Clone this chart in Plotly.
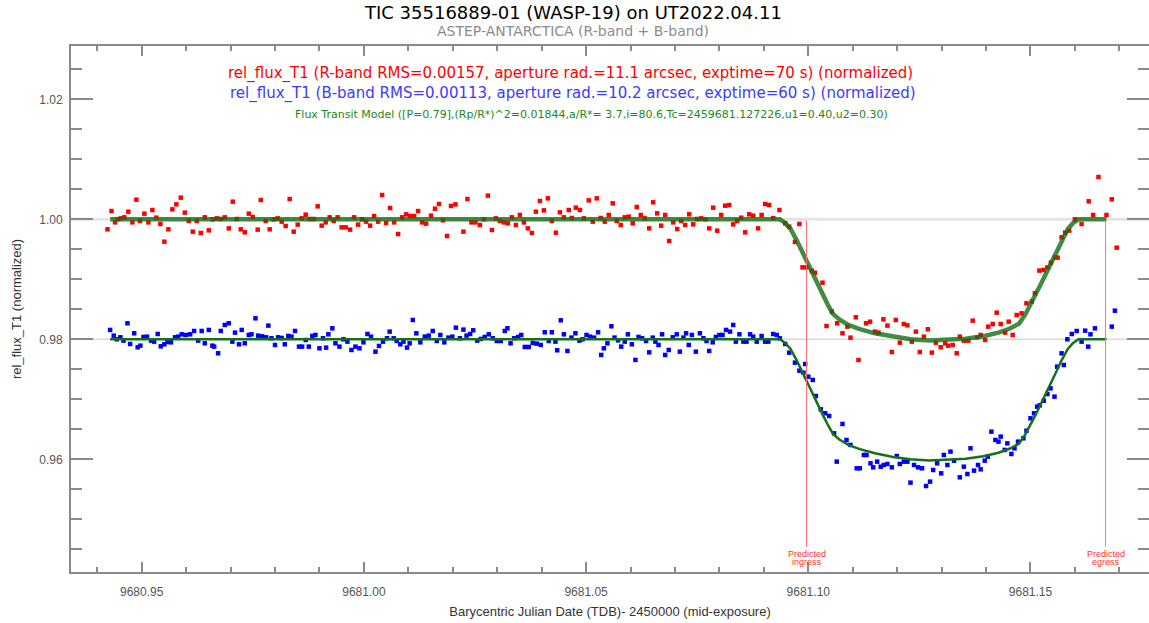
import plotly.graph_objects as go

# ---------------- data ----------------
r_time = [9680.9423, 9680.9432, 9680.9440, 9680.9446, 9680.9453, 9680.9461, 9680.9470, 9680.9479, 9680.9488, 9680.9496,
          9680.9506, 9680.9515, 9680.9524, 9680.9533, 9680.9542, 9680.9551, 9680.9560, 9680.9569, 9680.9578, 9680.9588,
          9680.9597, 9680.9606, 9680.9615, 9680.9624, 9680.9633, 9680.9642, 9680.9651, 9680.9660, 9680.9669, 9680.9678,
          9680.9687, 9680.9696, 9680.9705, 9680.9714, 9680.9723, 9680.9732, 9680.9741, 9680.9750, 9680.9761, 9680.9768,
          9680.9779, 9680.9788, 9680.9797, 9680.9806, 9680.9815, 9680.9824, 9680.9833, 9680.9842, 9680.9851, 9680.9860,
          9680.9869, 9680.9878, 9680.9887, 9680.9896, 9680.9905, 9680.9914, 9680.9923, 9680.9932, 9680.9941, 9680.9950,
          9680.9959, 9680.9969, 9680.9978, 9680.9987, 9680.9996, 9681.0005, 9681.0014, 9681.0023, 9681.0032, 9681.0041,
          9681.0050, 9681.0059, 9681.0068, 9681.0077, 9681.0086, 9681.0095, 9681.0104, 9681.0113, 9681.0122, 9681.0131,
          9681.0140, 9681.0151, 9681.0160, 9681.0169, 9681.0178, 9681.0187, 9681.0196, 9681.0206, 9681.0224, 9681.0233,
          9681.0242, 9681.0251, 9681.0261, 9681.0270, 9681.0279, 9681.0288, 9681.0297, 9681.0306, 9681.0315, 9681.0324,
          9681.0333, 9681.0342, 9681.0351, 9681.0360, 9681.0369, 9681.0378, 9681.0387, 9681.0396, 9681.0405, 9681.0414,
          9681.0423, 9681.0432, 9681.0441, 9681.0450, 9681.0461, 9681.0468, 9681.0477, 9681.0486, 9681.0495, 9681.0506,
          9681.0515, 9681.0524, 9681.0533, 9681.0542, 9681.0551, 9681.0560, 9681.0569, 9681.0578, 9681.0587, 9681.0596,
          9681.0605, 9681.0614, 9681.0623, 9681.0632, 9681.0642, 9681.0651, 9681.0660, 9681.0669, 9681.0678, 9681.0687,
          9681.0696, 9681.0705, 9681.0714, 9681.0723, 9681.0732, 9681.0741, 9681.0750, 9681.0759, 9681.0768, 9681.0777,
          9681.0786, 9681.0795, 9681.0804, 9681.0813, 9681.0822, 9681.0831, 9681.0840, 9681.0849, 9681.0858, 9681.0867,
          9681.0876, 9681.0887, 9681.0895, 9681.0903, 9681.0912, 9681.0921, 9681.0935, 9681.0948, 9681.0957, 9681.0970,
          9681.0980, 9681.0987, 9681.0996, 9681.1008, 9681.1015, 9681.1032, 9681.1041, 9681.1053, 9681.1065, 9681.1077,
          9681.1088, 9681.1095, 9681.1107, 9681.1113, 9681.1130, 9681.1139, 9681.1150, 9681.1158, 9681.1169, 9681.1178,
          9681.1188, 9681.1197, 9681.1206, 9681.1215, 9681.1223, 9681.1233, 9681.1242, 9681.1251, 9681.1260, 9681.1269,
          9681.1278, 9681.1287, 9681.1298, 9681.1308, 9681.1315, 9681.1325, 9681.1334, 9681.1341, 9681.1350, 9681.1360,
          9681.1370, 9681.1380, 9681.1388, 9681.1398, 9681.1405, 9681.1415, 9681.1424, 9681.1433, 9681.1443, 9681.1451,
          9681.1460, 9681.1469, 9681.1480, 9681.1491, 9681.1503, 9681.1510, 9681.1520, 9681.1529, 9681.1538, 9681.1546,
          9681.1555, 9681.1561, 9681.1570, 9681.1578, 9681.1587, 9681.1600, 9681.1615, 9681.1631, 9681.1641, 9681.1653,
          9681.1671, 9681.1683, 9681.1694]
r_flux = [0.99833, 1.00138, 0.99949, 1.00000, 1.00016, 1.00033, 1.00127, 0.99949, 1.00327, 0.99972,
          1.00094, 0.99949, 1.00155, 1.00027, 0.99922, 0.99627, 0.99833, 1.00166, 1.00249, 1.00361,
          1.00111, 0.99972, 0.99794, 0.99972, 0.99772, 1.00033, 0.99816, 1.00000, 1.00016, 1.00005,
          1.00033, 0.99849, 1.00294, 1.00005, 0.99833, 0.99783, 1.00094, 1.00038, 0.99828, 1.00322,
          0.99972, 0.99833, 1.00000, 1.00016, 0.99961, 0.99888, 1.00338, 0.99794, 0.99911, 1.00016,
          1.00077, 1.00005, 1.00005, 1.00216, 0.99894, 0.99949, 1.00033, 0.99972, 1.00033, 0.99866,
          0.99866, 0.99828, 1.00033, 0.99911, 1.00000, 0.99961, 0.99894, 1.00055, 0.99961, 1.00405,
          0.99938, 1.00188, 0.99949, 0.99755, 1.00033, 1.00083, 1.00055, 1.00055, 1.00138, 0.99949,
          0.99927, 1.00061, 1.00177, 1.00255, 0.99983, 0.99722, 1.00222, 1.00249, 0.99794, 1.00338,
          0.99949, 0.99949, 0.99905, 1.00000, 1.00394, 0.99822, 1.00016, 0.99972, 0.99949, 0.99933,
          1.00033, 0.99905, 1.00072, 0.99949, 0.99849, 0.99772, 1.00127, 1.00305, 1.00149, 1.00349,
          0.99972, 0.99777, 1.00116, 1.00033, 1.00155, 1.00022, 1.00194, 1.00155, 1.00016, 1.00316,
          0.99961, 1.00349, 1.00022, 0.99961, 1.00072, 1.00266, 0.99972, 0.99905, 1.00033, 1.00044,
          0.99933, 1.00205, 1.00072, 1.00016, 0.99849, 1.00283, 1.00099, 0.99894, 1.00072, 0.99638,
          0.99949, 0.99838, 0.99972, 0.99905, 1.00083, 0.99916, 1.00005, 1.00016, 1.00000, 0.99849,
          1.00194, 0.99811, 1.00072, 1.00227, 1.00238, 0.99916, 0.99972, 1.00027, 0.99783, 1.00083,
          1.00061, 0.99849, 1.00072, 1.00255, 1.00238, 1.00020, 1.00155, 0.99933, 0.99877, 0.99622,
          0.99922, 0.99199, 0.99199, 0.99144, 0.99110, 0.98944, 0.98222, 0.98461, 0.98267, 0.98100,
          0.98211, 0.98027, 0.98367, 0.97655, 0.98267, 0.98294, 0.98128, 0.98111, 0.98333, 0.98228,
          0.97788, 0.98322, 0.97944, 0.98255, 0.98233, 0.97961, 0.98128, 0.97788, 0.98044, 0.98167,
          0.97778, 0.97944, 0.97867, 0.97933, 0.97894, 0.97905, 0.97767, 0.98044, 0.97977, 0.97977,
          0.98311, 0.98033, 0.98072, 0.97988, 0.98211, 0.98255, 0.98444, 0.98255, 0.98111, 0.98294,
          0.98072, 0.98405, 0.98433, 0.98600, 0.98628, 0.98767, 0.99145, 0.99156, 0.99199, 0.99277,
          0.99366, 0.99361, 0.99700, 0.99777, 0.99811, 1.00000, 0.99922, 1.00300, 1.00072, 1.00705,
          1.00072, 1.00333, 0.99527]

b_time = [9680.9429, 9680.9437, 9680.9444, 9680.9452, 9680.9459, 9680.9468, 9680.9474, 9680.9483, 9680.9491, 9680.9497,
          9680.9504, 9680.9512, 9680.9521, 9680.9528, 9680.9536, 9680.9543, 9680.9551, 9680.9558, 9680.9566, 9680.9575,
          9680.9582, 9680.9590, 9680.9599, 9680.9609, 9680.9618, 9680.9627, 9680.9635, 9680.9642, 9680.9651, 9680.9659,
          9680.9663, 9680.9672, 9680.9678, 9680.9687, 9680.9696, 9680.9704, 9680.9710, 9680.9719, 9680.9725, 9680.9732,
          9680.9741, 9680.9747, 9680.9756, 9680.9762, 9680.9771, 9680.9780, 9680.9785, 9680.9792, 9680.9800, 9680.9807,
          9680.9815, 9680.9822, 9680.9830, 9680.9837, 9680.9845, 9680.9854, 9680.9861, 9680.9869, 9680.9876, 9680.9884,
          9680.9891, 9680.9900, 9680.9908, 9680.9915, 9680.9920, 9680.9929, 9680.9936, 9680.9945, 9680.9954, 9680.9963,
          9680.9972, 9680.9981, 9680.9990, 9680.9999, 9681.0008, 9681.0016, 9681.0026, 9681.0034, 9681.0043, 9681.0052,
          9681.0058, 9681.0067, 9681.0074, 9681.0082, 9681.0089, 9681.0097, 9681.0103, 9681.0110, 9681.0118, 9681.0127,
          9681.0137, 9681.0146, 9681.0155, 9681.0164, 9681.0172, 9681.0181, 9681.0190, 9681.0199, 9681.0207, 9681.0216,
          9681.0224, 9681.0231, 9681.0239, 9681.0246, 9681.0255, 9681.0263, 9681.0272, 9681.0281, 9681.0290, 9681.0299,
          9681.0308, 9681.0317, 9681.0323, 9681.0330, 9681.0338, 9681.0347, 9681.0354, 9681.0362, 9681.0371, 9681.0380,
          9681.0389, 9681.0398, 9681.0407, 9681.0416, 9681.0423, 9681.0431, 9681.0435, 9681.0443, 9681.0450, 9681.0458,
          9681.0467, 9681.0476, 9681.0485, 9681.0492, 9681.0501, 9681.0509, 9681.0518, 9681.0527, 9681.0534, 9681.0540,
          9681.0548, 9681.0557, 9681.0564, 9681.0572, 9681.0579, 9681.0587, 9681.0594, 9681.0603, 9681.0611, 9681.0618,
          9681.0626, 9681.0635, 9681.0642, 9681.0650, 9681.0656, 9681.0663, 9681.0671, 9681.0678, 9681.0686, 9681.0695,
          9681.0704, 9681.0711, 9681.0719, 9681.0725, 9681.0731, 9681.0738, 9681.0747, 9681.0756, 9681.0764, 9681.0771,
          9681.0777, 9681.0785, 9681.0792, 9681.0800, 9681.0807, 9681.0815, 9681.0824, 9681.0831, 9681.0837, 9681.0845,
          9681.0854, 9681.0861, 9681.0869, 9681.0876, 9681.0884, 9681.0895, 9681.0903, 9681.0910, 9681.0921, 9681.0929,
          9681.0936, 9681.0948, 9681.0957, 9681.0970, 9681.0980, 9681.0989, 9681.0993, 9681.1000, 9681.1010, 9681.1017,
          9681.1028, 9681.1038, 9681.1047, 9681.1058, 9681.1064, 9681.1077, 9681.1086, 9681.1095, 9681.1109, 9681.1116,
          9681.1125, 9681.1131, 9681.1140, 9681.1146, 9681.1155, 9681.1163, 9681.1170, 9681.1178, 9681.1188, 9681.1199,
          9681.1206, 9681.1215, 9681.1223, 9681.1230, 9681.1238, 9681.1247, 9681.1256, 9681.1265, 9681.1274, 9681.1281,
          9681.1290, 9681.1299, 9681.1305, 9681.1313, 9681.1320, 9681.1328, 9681.1341, 9681.1350, 9681.1358, 9681.1365,
          9681.1373, 9681.1382, 9681.1388, 9681.1397, 9681.1404, 9681.1412, 9681.1421, 9681.1428, 9681.1433, 9681.1442,
          9681.1448, 9681.1457, 9681.1464, 9681.1472, 9681.1484, 9681.1491, 9681.1500, 9681.1508, 9681.1515, 9681.1521,
          9681.1530, 9681.1538, 9681.1545, 9681.1554, 9681.1560, 9681.1570, 9681.1575, 9681.1583, 9681.1593, 9681.1604,
          9681.1615, 9681.1623, 9681.1630, 9681.1635, 9681.1645, 9681.1683, 9681.1690]
b_flux = [0.98156, 0.98061, 0.98000, 0.98033, 0.97978, 0.98267, 0.97922, 0.98100, 0.97867, 0.97894,
          0.98039, 0.98044, 0.97978, 0.97961, 0.98089, 0.97883, 0.97917, 0.97956, 0.97950, 0.98033,
          0.98044, 0.98083, 0.98072, 0.98083, 0.98139, 0.97978, 0.98139, 0.97933, 0.98156, 0.97894,
          0.97878, 0.97767, 0.98139, 0.98239, 0.98267, 0.97961, 0.98111, 0.97917, 0.98156, 0.97933,
          0.98072, 0.98083, 0.98350, 0.98061, 0.98050, 0.98033, 0.98228, 0.98017, 0.97906, 0.98033,
          0.98022, 0.97917, 0.98056, 0.98044, 0.98139, 0.97878, 0.97878, 0.97989, 0.97878, 0.98056,
          0.98072, 0.97850, 0.98017, 0.97861, 0.98083, 0.98183, 0.97933, 0.97878, 0.98000, 0.97961,
          0.97822, 0.97878, 0.97850, 0.97950, 0.98089, 0.98044, 0.97794, 0.97889, 0.97961, 0.98017,
          0.98128, 0.98017, 0.97972, 0.97917, 0.97961, 0.97861, 0.97933, 0.98322, 0.98100, 0.97950,
          0.98044, 0.98061, 0.98139, 0.97972, 0.98072, 0.97950, 0.98028, 0.98044, 0.98194, 0.98017,
          0.98161, 0.98061, 0.98089, 0.98150, 0.97978, 0.98006, 0.98039, 0.98083, 0.98017, 0.97972,
          0.97972, 0.98139, 0.98183, 0.97933, 0.98017, 0.98039, 0.98072, 0.97872, 0.97872, 0.97939,
          0.97928, 0.97906, 0.98117, 0.97972, 0.98117, 0.97961, 0.97817, 0.98317, 0.98083, 0.97806,
          0.98028, 0.98100, 0.97978, 0.98000, 0.98072, 0.98044, 0.98028, 0.98117, 0.97739, 0.97850,
          0.97933, 0.98217, 0.98028, 0.97983, 0.97878, 0.97961, 0.98083, 0.97917, 0.97656, 0.98039,
          0.98017, 0.97972, 0.97783, 0.98028, 0.97961, 0.97906, 0.98083, 0.97739, 0.97822, 0.98033,
          0.98083, 0.97794, 0.98028, 0.98100, 0.97906, 0.98072, 0.97794, 0.98100, 0.98017, 0.97972,
          0.97806, 0.97950, 0.98039, 0.98072, 0.98072, 0.98156, 0.98128, 0.98239, 0.97961, 0.98083,
          0.97961, 0.97961, 0.98083, 0.98044, 0.97961, 0.98055, 0.97961, 0.97961, 0.98088, 0.98072,
          0.98016, 0.97922, 0.97777, 0.97611, 0.97477, 0.97444, 0.97588, 0.97377, 0.97322, 0.97055,
          0.96833, 0.96767, 0.96722, 0.96433, 0.95961, 0.96589, 0.96322, 0.96239, 0.95850, 0.95850,
          0.96072, 0.96072, 0.95933, 0.95866, 0.95961, 0.95877, 0.95905, 0.95922, 0.95866, 0.96055,
          0.95922, 0.95961, 0.95961, 0.95611, 0.95905, 0.95866, 0.95850, 0.95555, 0.95628, 0.95822,
          0.95933, 0.95766, 0.96072, 0.95905, 0.96128, 0.95977, 0.95700, 0.95877, 0.95755, 0.96183,
          0.95811, 0.95905, 0.95833, 0.95977, 0.96044, 0.96461, 0.96322, 0.96294, 0.96378, 0.96156,
          0.96266, 0.96089, 0.96183, 0.96294, 0.96350, 0.96477, 0.96683, 0.96767, 0.96877, 0.96900,
          0.96977, 0.97088, 0.97183, 0.97044, 0.97544, 0.97766, 0.97572, 0.98000, 0.98088, 0.98138,
          0.97961, 0.98144, 0.97877, 0.98083, 0.98183, 0.98211, 0.98477]

model_time = [9680.9429, 9681.0936, 9681.0948, 9681.0960, 9681.0974, 9681.0986, 9681.0998, 9681.1010, 9681.1022,
              9681.1034, 9681.1045, 9681.1056, 9681.1070, 9681.1090, 9681.1116, 9681.1150, 9681.1191, 9681.1230,
              9681.1272, 9681.1314, 9681.1354, 9681.1394, 9681.1428, 9681.1454, 9681.1474, 9681.1488, 9681.1499,
              9681.1510, 9681.1522, 9681.1534, 9681.1546, 9681.1558, 9681.1570, 9681.1584, 9681.1596, 9681.1608,
              9681.1671]
model_r = [1.0000, 1.0000, 0.9994, 0.9984, 0.9965, 0.9946, 0.9926, 0.9908, 0.9890,
           0.9872, 0.9856, 0.9842, 0.9833, 0.9824, 0.9817, 0.9810, 0.9804, 0.9800,
           0.9798, 0.9799, 0.9801, 0.9805, 0.9811, 0.9818, 0.9826, 0.9841, 0.9856,
           0.9872, 0.9890, 0.9908, 0.9926, 0.9946, 0.9965, 0.9984, 0.9994, 1.0000,
           1.0000]
model_b = [0.9800, 0.9800, 0.9794, 0.9784, 0.9765, 0.9746, 0.9726, 0.9708, 0.9690,
           0.9672, 0.9656, 0.9642, 0.9633, 0.9624, 0.9617, 0.9610, 0.9604, 0.9600,
           0.9598, 0.9599, 0.9601, 0.9605, 0.9611, 0.9618, 0.9626, 0.9641, 0.9656,
           0.9672, 0.9690, 0.9708, 0.9726, 0.9746, 0.9765, 0.9784, 0.9794, 0.9800,
           0.9800]

pred_times = [9681.0996, 9681.1669]
pred_labels = ["ingress", "egress"]
ref_levels = [1.00, 0.98]

title = "TIC 35516889-01 (WASP-19) on UT2022.04.11"
subtitle = "ASTEP-ANTARCTICA (R-band + B-band)"
leg_r = "rel_flux_T1 (R-band RMS=0.00157, aperture rad.=11.1 arcsec, exptime=70 s) (normalized)"
leg_b = "rel_flux_T1 (B-band RMS=0.00113, aperture rad.=10.2 arcsec, exptime=60 s) (normalized)"
leg_m = "Flux Transit Model ([P=0.79],(Rp/R*)^2=0.01844,a/R*= 3.7,i=80.6,Tc=2459681.127226,u1=0.40,u2=0.30)"

XR = [9680.93409, 9681.17667]
YR = [0.941217, 1.028883]

# ---------------- figure ----------------
fig = go.Figure()

fig.add_trace(go.Scatter(x=r_time, y=r_flux, mode="markers",
                         marker=dict(symbol="square", size=4.5, color="#ff0000", line=dict(width=0)),
                         showlegend=False))
fig.add_trace(go.Scatter(x=b_time, y=b_flux, mode="markers",
                         marker=dict(symbol="square", size=4.5, color="#0000ff", line=dict(width=0)),
                         showlegend=False))
fig.add_trace(go.Scatter(x=model_time, y=model_r, mode="lines",
                         line=dict(color="rgba(20,110,20,0.8)", width=4.5, shape="linear"),
                         showlegend=False))
fig.add_trace(go.Scatter(x=model_time, y=model_b, mode="lines",
                         line=dict(color="#16701a", width=2.5, shape="linear"),
                         showlegend=False))

shapes = []
for lv, w, c in zip(ref_levels, [3, 1.5], ["#e4e4e4", "#d9d9d9"]):
    shapes.append(dict(type="line", xref="paper", x0=0, x1=1, yref="y", y0=lv, y1=lv,
                       line=dict(color=c, width=w), layer="below"))
for t in pred_times:
    shapes.append(dict(type="line", xref="x", x0=t, x1=t, yref="y", y0=0.9998, y1=0.94545,
                       line=dict(color="#ff7070", width=1), layer="above"))

ann = []
ann.append(dict(text=title, xref="paper", yref="paper", x=0.4657, y=1.0646, showarrow=False,
                font=dict(family="DejaVu Sans", size=18, color="#000000"), xanchor="center", yanchor="middle"))
ann.append(dict(text=subtitle, xref="paper", yref="paper", x=0.4657, y=1.0285, showarrow=False,
                font=dict(family="DejaVu Sans", size=14, color="#8c8c8c"), xanchor="center", yanchor="middle"))
ann.append(dict(text=leg_r, xref="x", yref="y", x=9681.0464, y=1.02438, showarrow=False,
                font=dict(family="DejaVu Sans", size=15, color="#ff0000"), xanchor="center", yanchor="middle"))
ann.append(dict(text=leg_b, xref="x", yref="y", x=9681.0470, y=1.02105, showarrow=False,
                font=dict(family="DejaVu Sans", size=15, color="#3b3bff"), xanchor="center", yanchor="middle"))
ann.append(dict(text=leg_m, xref="x", yref="y", x=9681.0513, y=1.01755, showarrow=False,
                font=dict(family="DejaVu Sans", size=11, color="#1a8a1a"), xanchor="center", yanchor="middle"))
for t, lab in zip(pred_times, pred_labels):
    ann.append(dict(text="Predicted", xref="x", yref="y", x=t, y=0.94422, showarrow=False,
                    font=dict(family="Liberation Sans", size=9, color="#ff3030"), xanchor="center", yanchor="middle"))
    ann.append(dict(text=lab, xref="x", yref="y", x=t, y=0.94288, showarrow=False,
                    font=dict(family="Liberation Sans", size=9, color="#ff3030"), xanchor="center", yanchor="middle"))

axis_col = "#8a8a8a"
fig.update_layout(
    width=1149, height=623,
    margin=dict(l=71, r=0, t=46, b=51, autoexpand=False),
    paper_bgcolor="white", plot_bgcolor="white",
    shapes=shapes, annotations=ann,
    font=dict(family="Liberation Sans", size=12, color="#555555"),
    xaxis=dict(range=XR, showgrid=False, zeroline=False, showline=True, linecolor=axis_col, linewidth=2,
               mirror="ticks", ticks="inside", ticklen=10, tickwidth=1.5, tickcolor=axis_col,
               tick0=9680.95, dtick=0.05, tickformat=".2f", ticklabelstandoff=8,
               tickfont=dict(family="Liberation Sans", size=12, color="#555555"),
               minor=dict(ticks="inside", ticklen=5, tickwidth=1.5, tickcolor=axis_col, dtick=0.01, showgrid=False),
               title=dict(text="Barycentric Julian Date (TDB)- 2450000 (mid-exposure)", standoff=8,
                          font=dict(family="Liberation Sans", size=13, color="#333333"))),
    yaxis=dict(range=YR, showgrid=False, zeroline=False, showline=True, linecolor=axis_col, linewidth=2,
               mirror="ticks", ticks="inside", ticklen=22, tickwidth=1.5, tickcolor=axis_col,
               tick0=0.96, dtick=0.02, tickformat=".2f", ticklabelstandoff=4,
               tickfont=dict(family="Liberation Sans", size=12, color="#555555"),
               minor=dict(ticks="inside", ticklen=11, tickwidth=1.5, tickcolor=axis_col, dtick=0.005, showgrid=False),
               title=dict(text="rel_flux_T1 (normalized)", standoff=15,
                          font=dict(family="Liberation Sans", size=13, color="#333333"))),
)

fig.write_html("out.html", config={"displayModeBar": False},
               post_script="document.body.style.margin='0px'; document.body.style.overflow='hidden';")
